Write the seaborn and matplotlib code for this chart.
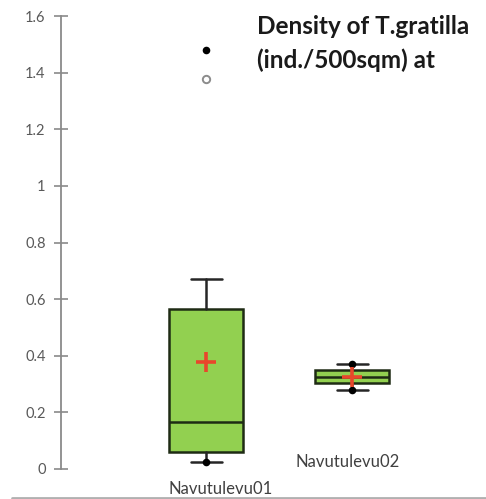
import matplotlib
matplotlib.use("Agg")
import matplotlib.pyplot as plt
import matplotlib.lines as mlines
import seaborn as sns
import pandas as pd

# Summary statistics per survey site (density, ind./500 sqm)
sites = ["Navutulevu01", "Navutulevu02"]
q1 = [0.06, 0.305]
median = [0.165, 0.325]
q3 = [0.565, 0.35]
whisker_low = [0.025, 0.28]
whisker_high = [0.67, 0.37]
mean = [0.378, 0.325]
minimum = [0.025, 0.28]
maximum = [1.48, 0.37]
outliers = [[1.378], []]
y_ticks = [0, 0.2, 0.4, 0.6, 0.8, 1, 1.2, 1.4, 1.6]
y_tick_labels = ["0", "0.2", "0.4", "0.6", "0.8", "1", "1.2", "1.4", "1.6"]
title = "Density of T.gratilla\n(ind./500sqm) at"

sns.set_style("white")
plt.rcParams["font.family"] = ["Lato", "DejaVu Sans"]

W, H = 486, 499
fig = plt.figure(figsize=(W / 100, H / 100), dpi=100)
ax = fig.add_axes([61 / W, 1 - 469 / H, (W - 61) / W, (469 - 16) / H])

pos = list(range(len(sites)))
stats = [
    dict(label=s, q1=a, med=m, q3=b, whislo=lo, whishi=hi, fliers=[])
    for s, a, m, b, lo, hi in zip(sites, q1, median, q3, whisker_low, whisker_high)
]
edge = "#1e2b14"
ax.bxp(
    stats, positions=pos, widths=74 / 146, capwidths=31 / 146,
    patch_artist=True, showfliers=False,
    boxprops=dict(facecolor="#92d050", edgecolor=edge, linewidth=1.8),
    medianprops=dict(color=edge, linewidth=1.8),
    whiskerprops=dict(color="#262626", linewidth=1.8),
    capprops=dict(color="#262626", linewidth=1.8),
)

df_minmax = pd.DataFrame({"x": pos * 2, "y": minimum + maximum})
sns.scatterplot(data=df_minmax, x="x", y="y", ax=ax, color="black",
                s=30, linewidth=0, zorder=5)

df_out = pd.DataFrame({"x": [p for p, o in zip(pos, outliers) for _ in o],
                       "y": [v for o in outliers for v in o]})
sns.scatterplot(data=df_out, x="x", y="y", ax=ax, facecolor="white",
                edgecolor="#8c8c8c", s=28, linewidth=1.4, zorder=5)

df_mean = pd.DataFrame({"x": pos, "y": mean})
sns.scatterplot(data=df_mean, x="x", y="y", ax=ax, marker="+",
                color="#e8472b", s=220, linewidth=2.6, zorder=6)

ax.set_xlim(-(206 - 61) / 146, 1 + (W - 352) / 146)
ax.set_ylim(0, 1.6)
ax.set_yticks(y_ticks)
ax.set_yticklabels(y_tick_labels)
ax.set_xticks([])
ax.set_xlabel("")
ax.set_ylabel("")
for side in ["top", "right", "bottom"]:
    ax.spines[side].set_visible(False)
ax.spines["left"].set_color("#8a8a8a")
ax.spines["left"].set_linewidth(1.3)
ax.tick_params(axis="y", direction="inout", length=10, width=1.2,
               color="#8a8a8a", labelcolor="#595959", labelsize=10.5, pad=6,
               left=True)
ax.patch.set_alpha(0)

# Site labels, staggered below the boxes
ax.text(0.1, -20 / 453, sites[0], transform=ax.get_xaxis_transform(),
        ha="center", va="center", fontsize=12, color="#404040")
ax.text(0.97, 7 / 453, sites[1], transform=ax.get_xaxis_transform(),
        ha="center", va="center", fontsize=12, color="#404040")

fig.text(257 / W, 1 - 15 / H, title, ha="left", va="top",
         fontsize=17.5, fontweight="bold", color="#1a1a1a", linespacing=1.55)

fig.add_artist(mlines.Line2D([12 / W, 1], [1 - 498 / H] * 2,
                             color="#b0b0b0", linewidth=2))

fig.savefig("out.png", dpi=100)
